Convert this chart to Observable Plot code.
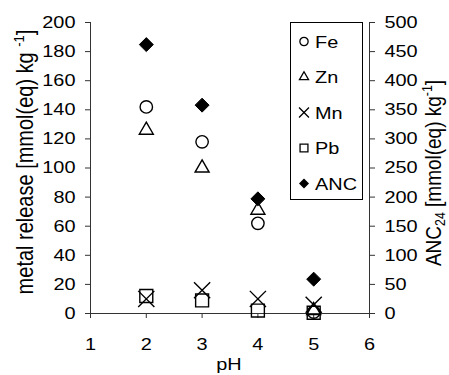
<!DOCTYPE html>
<html>
<head>
<meta charset="utf-8">
<script src="https://cdn.jsdelivr.net/npm/d3@7"></script>
<script src="https://cdn.jsdelivr.net/npm/@observablehq/plot@0.6"></script>
<style>
  body { margin: 0; background: #fff; }
  #chart svg { font-family: "Liberation Sans", Arial, sans-serif; }
</style>
</head>
<body>
<div id="chart"></div>
<script>
// Metal release and acid neutralisation capacity (ANC) versus pH
const pH = [2, 3, 4, 5];
const fe = [142, 118, 62, 1];
const zn = [126, 100, 71, 2];
const mn = [10, 16, 10, 6];
const pb = [12, 9, 2, 0.5];
const anc = [462, 358, 197, 59];          // right axis, mmol(eq) kg-1

const xTicks = [1, 2, 3, 4, 5, 6];
const leftTicks = [0, 20, 40, 60, 80, 100, 120, 140, 160, 180, 200];
const rightTicks = [0, 50, 100, 150, 200, 250, 300, 350, 400, 450, 500];

// ANC shares the plot with the metals: 500 on the right = 200 on the left
const ancScale = 200 / 500;

const series = [
  {name: "Fe",  values: fe,  symbol: "circle",   r: 6.2, filled: false, legendSize: 54},
  {name: "Zn",  values: zn,  symbol: "triangle", r: 5.2, filled: false, legendSize: 36},
  {name: "Mn",  values: mn,  symbol: "times",    r: 7.4, filled: false, legendSize: 66},
  {name: "Pb",  values: pb,  symbol: "square",   r: 7.3, filled: false, legendSize: 62},
  {name: "ANC", values: anc, symbol: "diamond2", r: 6.3, filled: true,  legendSize: 64, factor: ancScale}
];

const ink = "#000";
const axisInk = "#333";

const dotMarks = series.map(s => {
  const rows = pH.map((p, i) => ({pH: p, v: s.values[i] * (s.factor ?? 1)}));
  return Plot.dot(rows, {
    x: "pH", y: "v", symbol: () => s.symbol, r: s.r,
    fill: s.filled ? ink : "none",
    stroke: ink, strokeWidth: s.filled ? 1 : 1.4
  });
});

const chart = Plot.plot({
  width: 449,
  height: 375,
  marginTop: 22,
  marginBottom: 62,
  marginLeft: 90,
  marginRight: 80,
  x: {domain: [1, 6]},
  y: {domain: [0, 200]},
  symbol: {type: "identity"},
  style: {fontSize: "17px", color: ink, background: "#fff", overflow: "visible"},
  marks: [
    Plot.axisX({ticks: xTicks, tickFormat: d => String(d), tickSize: 5, tickPadding: 19,
                label: null, stroke: axisInk}),
    Plot.axisY({ticks: leftTicks, tickFormat: d => String(d), tickSize: 5, tickPadding: 10,
                label: null, stroke: axisInk}),
    Plot.axisY({anchor: "right", ticks: rightTicks.map(t => t * ancScale),
                tickFormat: t => String(Math.round(t / ancScale)),
                tickSize: 5, tickPadding: 10, label: null, stroke: axisInk}),
    Plot.ruleY([0], {stroke: axisInk}),
    Plot.ruleX([1], {stroke: axisInk}),
    Plot.ruleX([6], {stroke: axisInk}),
    ...dotMarks
  ]
});

document.getElementById("chart").appendChild(chart);

const svg = d3.select(chart);
const stretch = 1.17;   // wide lettering

// Widen tick labels about their anchor points
svg.selectAll('g[aria-label$="tick label"] text').each(function () {
  const t = this.getAttribute("transform") || "";
  this.setAttribute("transform", t + ` scale(${stretch},1)`);
});

// Axis titles with sub- and superscripts
function addRotatedTitle(x, y, size, parts) {
  const text = svg.append("text")
    .attr("transform", `translate(${x},${y}) rotate(-90) scale(1,${stretch})`)
    .attr("text-anchor", "middle")
    .attr("font-size", size)
    .attr("fill", ink);
  parts.forEach(([str, shift]) => {
    const ts = text.append("tspan").text(str);
    if (shift === "sup") ts.attr("font-size", size * 0.65).attr("dy", -size * 0.4);
    else if (shift === "sub") ts.attr("font-size", size * 0.65).attr("dy", size * 0.2);
    else if (shift === "down") ts.attr("dy", size * 0.4);
    else if (shift === "up") ts.attr("dy", -size * 0.2);
  });
}

addRotatedTitle(33, 162, 20, [
  ["metal release [mmol(eq) kg "], ["-1", "sup"], ["]", "down"]
]);
addRotatedTitle(441, 173, 19, [
  ["ANC"], ["24", "sub"], [" [mmol(eq) kg", "up"], ["-1", "sup"], ["]", "down"]
]);

svg.append("text")
  .attr("transform", `translate(229,370) scale(${stretch},1)`)
  .attr("text-anchor", "middle")
  .attr("font-size", 17)
  .attr("fill", ink)
  .text("pH");

// Legend box
const legend = svg.append("g").attr("text-anchor", "start");
legend.append("rect")
  .attr("x", 290.5).attr("y", 22.5).attr("width", 72).attr("height", 177)
  .attr("fill", "#fff").attr("stroke", ink).attr("stroke-width", 1);

const symbolTypes = {
  circle: d3.symbolCircle, triangle: d3.symbolTriangle, times: d3.symbolTimes,
  square: d3.symbolSquare, diamond2: d3.symbolDiamond2
};
series.forEach((s, i) => {
  const cy = 41.5 + i * 35.5;
  legend.append("path")
    .attr("transform", `translate(304,${cy})`)
    .attr("d", d3.symbol(symbolTypes[s.symbol], s.legendSize)())
    .attr("fill", s.filled ? ink : "none")
    .attr("stroke", ink)
    .attr("stroke-width", s.filled ? 0 : 1.3);
  legend.append("text")
    .attr("transform", `translate(315,${cy}) scale(${stretch},1)`)
    .attr("dy", "0.36em")
    .attr("text-anchor", "start")
    .attr("font-size", 17)
    .attr("fill", ink)
    .text(s.name);
});
</script>
</body>
</html>
